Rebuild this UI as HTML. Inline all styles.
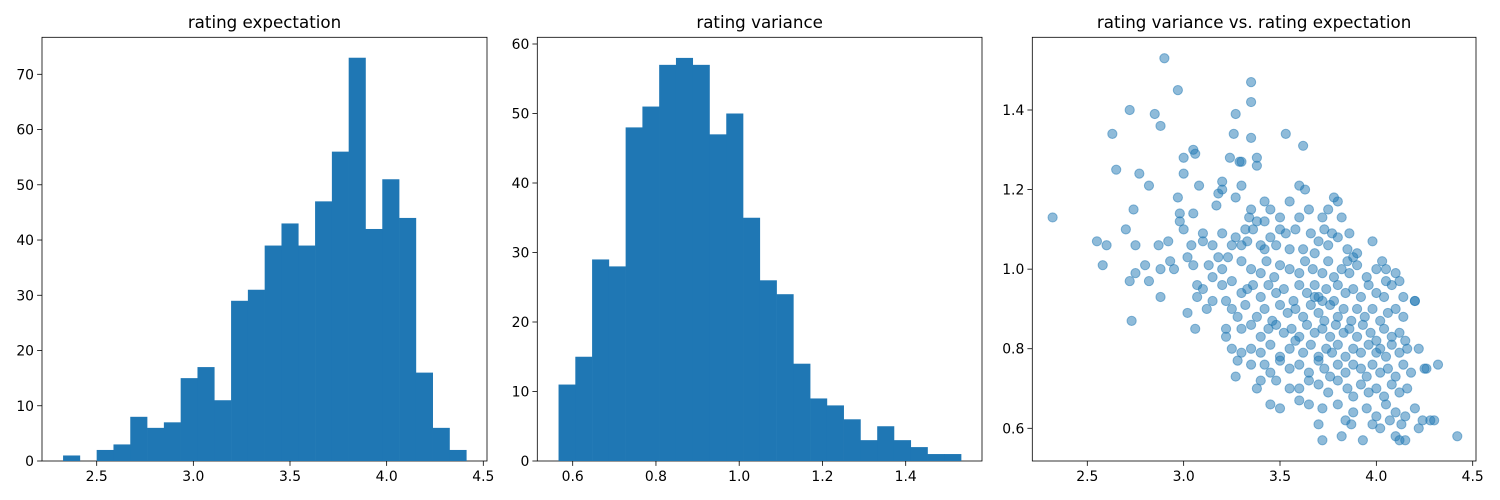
<!DOCTYPE html>
<html><head><meta charset="utf-8"><style>
html,body{margin:0;padding:0;background:#fff;}
svg{display:block;font-family:"DejaVu Sans","Liberation Sans",sans-serif;}
</style></head><body>
<svg id="fig" width="1500" height="500" viewBox="0 0 1500 500"></svg>
<script>
// Histogram 1: rating expectation
const expBinStart = 2.326, expBinEnd = 4.412;
const expCounts = [1,0,2,3,8,6,7,15,17,11,29,31,39,43,39,47,56,73,42,51,44,16,6,2];
const expXTicks = [2.5,3.0,3.5,4.0,4.5];
const expYTicks = [0,10,20,30,40,50,60,70];
// Histogram 2: rating variance
const varBinStart = 0.566, varBinEnd = 1.533;
const varCounts = [11,15,29,28,48,51,57,58,57,47,50,35,26,24,14,9,8,6,3,5,3,2,1,1];
const varXTicks = [0.6,0.8,1.0,1.2,1.4];
const varYTicks = [0,10,20,30,40,50,60];
// Scatter: variance vs expectation
const scX = [2.32,2.55,2.58,2.6,2.63,2.65,2.7,2.72,2.72,2.73,2.74,2.75,2.75,2.77,2.8,2.82,2.82,2.85,2.87,2.88,2.88,2.88,2.9,2.92,2.93,2.95,2.97,2.97,2.98,2.98,3.0,3.0,3.0,3.02,3.02,3.04,3.05,3.06,3.05,3.06,3.05,3.07,3.07,3.08,3.1,3.1,3.12,3.13,3.15,3.15,3.17,3.18,3.2,3.2,3.2,3.2,3.22,3.22,3.24,3.25,3.26,3.27,3.27,3.27,3.28,3.27,3.29,3.3,3.3,3.32,3.33,3.33,3.34,3.35,3.35,3.35,3.35,3.36,3.38,3.38,3.4,3.42,3.45,3.5,3.53,3.6,3.62,3.63,3.65,3.70,3.72,3.78,3.8,3.82,3.82,3.85,3.87,3.88,3.93,3.98,4.03,4.02,4.05,4.1,4.12,4.15,4.2,4.22,4.28,4.32,4.42,4.26,4.25,
3.45,3.5,3.55,3.58,3.62,3.66,3.7,3.73,3.75,3.8,3.85,3.9,3.42,3.48,3.53,3.68,3.77,3.86,
3.3,3.35,3.4,3.43,3.47,3.5,3.55,3.6,3.63,3.67,3.72,3.75,3.78,3.82,3.86,3.9,3.95,4.0,4.05,4.1,4.12,
3.3,3.36,3.4,3.44,3.48,3.52,3.57,3.6,3.64,3.68,3.7,3.74,3.78,3.8,3.84,3.88,3.92,3.96,4.0,4.04,4.08,4.14,4.2,
3.25,3.32,3.38,3.42,3.46,3.5,3.54,3.58,3.62,3.66,3.7,3.73,3.76,3.8,3.83,3.87,3.9,3.94,3.98,4.02,4.06,4.1,4.14,3.68,3.72,
3.3,3.35,3.4,3.44,3.48,3.52,3.56,3.6,3.64,3.68,3.72,3.76,3.79,3.83,3.86,3.9,3.93,3.97,4.0,4.04,4.08,4.12,4.15,
3.35,3.4,3.45,3.5,3.55,3.58,3.62,3.66,3.7,3.74,3.77,3.8,3.84,3.88,3.92,3.96,4.0,4.02,4.05,4.08,4.12,4.16,4.22,
3.42,3.5,3.55,3.6,3.65,3.7,3.73,3.76,3.8,3.84,3.88,3.92,3.95,3.98,4.02,4.06,4.1,4.14,4.18,
3.48,3.6,3.65,3.7,3.75,3.8,3.85,3.88,3.92,3.96,4.0,4.04,4.08,4.12,4.16,
3.72,3.8,3.88,3.95,4.0,4.05,4.1,4.15,4.2,3.84,3.98,4.07,4.13,4.24,
3.1,3.15,3.2,3.22,3.25,3.28,3.18,3.23,3.3,3.38,3.42,3.45,3.5,3.55,3.6,3.65,3.72,3.75,3.4,3.25,3.3,3.35,3.38,3.45,3.55,3.6,4.3];
const scY = [1.13,1.07,1.01,1.06,1.34,1.25,1.1,1.40,0.97,0.87,1.15,1.06,0.99,1.24,1.01,0.97,1.21,1.39,1.06,1.36,0.93,1.00,1.53,1.07,1.02,1.00,1.45,1.18,1.14,1.12,1.28,1.24,1.10,1.03,0.89,1.06,1.30,1.29,1.14,0.85,1.01,0.96,0.93,1.21,1.09,1.07,0.90,1.01,1.06,0.98,1.16,1.19,1.20,1.22,1.09,1.00,0.85,0.83,1.28,1.06,1.34,1.39,1.18,1.08,0.77,0.73,1.27,1.21,1.27,1.10,1.07,0.95,1.13,1.47,1.42,1.33,1.15,1.10,1.26,1.28,0.72,1.17,0.66,0.65,1.34,1.21,1.31,1.20,0.66,0.61,0.57,1.18,1.17,1.13,0.58,1.02,0.61,1.03,0.57,1.07,1.02,0.60,1.00,0.58,0.57,0.57,0.92,0.60,0.62,0.76,0.58,0.75,0.75,
1.08,1.10,1.05,1.10,1.05,1.09,1.07,1.10,1.06,1.08,1.05,1.04,1.05,1.06,1.09,1.04,1.09,1.09,
1.02,1.0,0.99,1.02,0.98,1.01,1.0,0.99,1.02,1.0,0.99,1.02,0.98,1.0,0.99,1.01,0.98,1.0,0.97,0.99,0.97,
0.94,0.96,0.93,0.96,0.94,0.95,0.92,0.96,0.94,0.96,0.93,0.95,0.92,0.96,0.94,0.95,0.93,0.96,0.94,0.93,0.96,0.93,0.92,
0.9,0.91,0.88,0.9,0.87,0.91,0.89,0.9,0.88,0.91,0.89,0.87,0.91,0.88,0.9,0.87,0.9,0.88,0.9,0.87,0.89,0.9,0.88,0.93,0.92,
0.85,0.86,0.83,0.85,0.86,0.84,0.85,0.83,0.86,0.84,0.85,0.83,0.86,0.84,0.85,0.83,0.86,0.84,0.82,0.85,0.83,0.84,0.82,
0.80,0.79,0.81,0.78,0.8,0.82,0.79,0.81,0.78,0.8,0.79,0.81,0.78,0.8,0.79,0.81,0.79,0.8,0.78,0.81,0.79,0.8,0.8,
0.76,0.77,0.75,0.76,0.74,0.77,0.75,0.73,0.76,0.74,0.76,0.75,0.73,0.76,0.74,0.75,0.73,0.76,0.74,
0.72,0.7,0.72,0.71,0.69,0.72,0.7,0.68,0.71,0.69,0.7,0.68,0.71,0.69,0.7,
0.65,0.66,0.64,0.65,0.63,0.66,0.64,0.63,0.65,0.62,0.61,0.62,0.61,0.62,
0.95,0.92,0.96,0.92,0.97,0.88,1.03,1.03,1.06,1.12,1.12,1.15,1.13,1.17,1.13,1.15,1.13,1.15,1.06,0.8,0.79,0.76,0.7,0.74,0.7,0.67,0.62];
const scXTicks = [2.5,3.0,3.5,4.0,4.5];
const scYTicks = [0.6,0.8,1.0,1.2,1.4];

const NS = "http://www.w3.org/2000/svg";
const svg = document.getElementById('fig');
function mk(tag, attrs, parent){const e=document.createElementNS(NS,tag);for(const k in attrs)e.setAttribute(k,attrs[k]);(parent||svg).appendChild(e);return e;}
const TOP=37.3, BOT=461;
function lin(d0,d1,r0,r1){return v=>r0+(v-d0)*(r1-r0)/(d1-d0);}
function fmt(v,dec){return v.toFixed(dec);}

function axes(name,left,right,title,xs,ys,xt,yt,xdec,ydec){
  const g=mk('g',{});
  
  
  const t=mk('text',{x:(left+right)/2,y:28,'text-anchor':'middle','font-size':16.7,fill:'#000'},g);
  t.textContent=title;
  
  
  xt.forEach(v=>{const x=xs(v);
    const l=mk('line',{x1:x,x2:x,y1:BOT,y2:BOT+4.9,stroke:'#000','stroke-width':0.8},g);
    
    
    const tx=mk('text',{x:x,y:BOT+20,'text-anchor':'middle','font-size':13.9,fill:'#000'},g);
    tx.textContent=fmt(v,xdec);
    
    });
  yt.forEach(v=>{const y=ys(v);
    const l=mk('line',{x1:left-4.9,x2:left,y1:y,y2:y,stroke:'#000','stroke-width':0.8},g);
    
    
    const tx=mk('text',{x:left-8,y:y+5,'text-anchor':'end','font-size':13.9,fill:'#000'},g);
    tx.textContent=fmt(v,ydec);
    
    });
  return g;
}
function frame(g,left,right){
  const r=mk('rect',{x:left,y:TOP,width:right-left,height:BOT-TOP,fill:'none',stroke:'#000','stroke-width':0.8},g);
  
  
}
function hist(name,left,right,xs,ys,start,end,counts){
  const g=mk('g',{});
  
  
  const w=(end-start)/counts.length;
  counts.forEach((c,i)=>{ if(c<=0) return;
    const x0=xs(start+i*w), x1=xs(start+(i+1)*w), y=ys(c);
    const r=mk('rect',{x:x0,y:y,width:x1-x0+0.3,height:ys(0)-y,fill:'#1f77b4'},g);
    
    });
}

// Panel 1
const x1s=lin(2.5,4.5,96.7,483.3), y1s=lin(0,70,461,74.3);
const g1=axes('expectation-histogram',42,487,'rating expectation',x1s,y1s,expXTicks,expYTicks,1,0);
hist('expectation',42,487,x1s,y1s,expBinStart,expBinEnd,expCounts);
frame(g1,42,487);
// Panel 2
const x2s=lin(0.6,1.4,572.7,905.7), y2s=lin(0,60,461,44);
const g2=axes('variance-histogram',537.3,982,'rating variance',x2s,y2s,varXTicks,varYTicks,1,0);
hist('variance',537.3,982,x2s,y2s,varBinStart,varBinEnd,varCounts);
frame(g2,537.3,982);
// Panel 3
const x3s=lin(2.5,4.5,1087.3,1472.7), y3s=lin(0.6,1.4,428.3,110);
const g3=axes('scatter-plot',1032.3,1476,'rating variance vs. rating expectation',x3s,y3s,scXTicks,scYTicks,1,1);
const pg=mk('g',{});


for(let i=0;i<scX.length;i++){
  const c=mk('circle',{cx:x3s(scX[i]),cy:y3s(scY[i]),r:4.6,fill:'#1f77b4','fill-opacity':0.5,stroke:'#1f77b4','stroke-opacity':0.5,'stroke-width':1},pg);
  
  
}
frame(g3,1032.3,1476);
</script>
</body></html>
